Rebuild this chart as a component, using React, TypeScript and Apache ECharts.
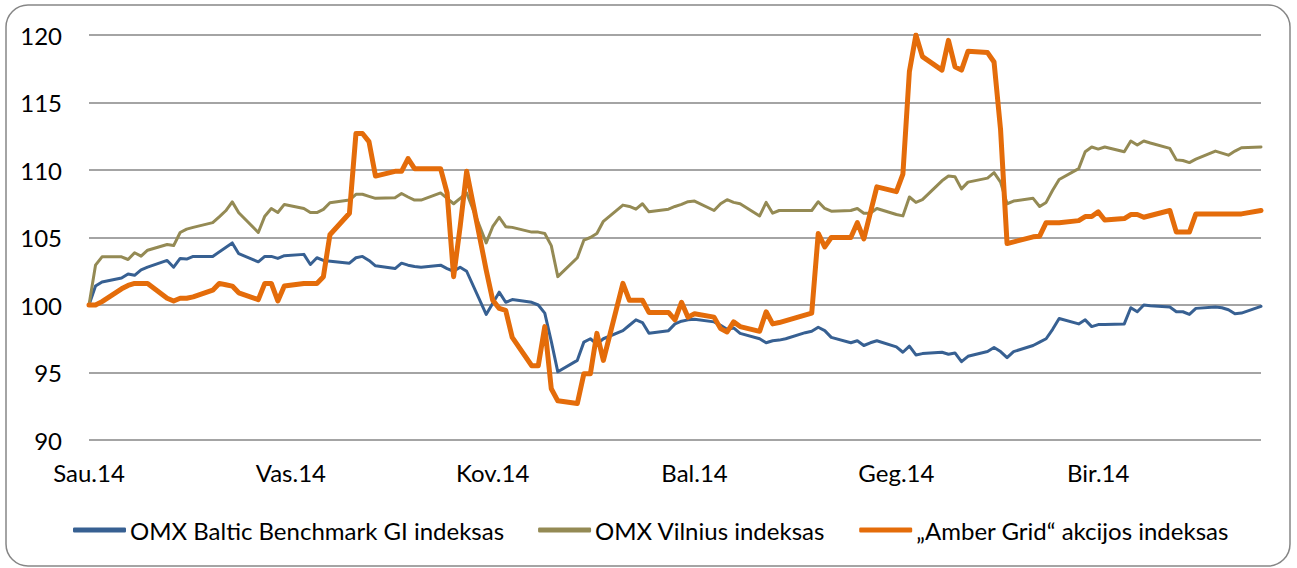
import React, { useEffect, useRef } from "react";
import * as echarts from "echarts";

// x categories: calendar days of 1H 2014 (index 0 = 2014-01-01)
const dayCount = 181;
const monthLabels = ["Sau.14", "Vas.14", "Kov.14", "Bal.14", "Geg.14", "Bir.14"];
const labelEvery = 31;
const yTicks = { min: 90, max: 120, step: 5 };

const seriesNames = [
  "OMX Baltic Benchmark GI indeksas",
  "OMX Vilnius indeksas",
  "\u201EAmber Grid\u201C akcijos indeksas",
];

// [day index, index value]
const balticBenchmark: [number, number][] = [
  [0, 100], [1, 101.4], [2, 101.7], [5, 102.0], [6, 102.3], [7, 102.2], [8, 102.6], [9, 102.8],
  [12, 103.3], [13, 102.8], [14, 103.45], [15, 103.4], [16, 103.6], [19, 103.6], [22, 104.6],
  [23, 103.8], [26, 103.2], [27, 103.6], [28, 103.6], [29, 103.45], [30, 103.65], [33, 103.75],
  [34, 103.0], [35, 103.5], [36, 103.3], [40, 103.1], [41, 103.5], [42, 103.6], [43, 103.3],
  [44, 102.9], [47, 102.7], [48, 103.1], [49, 102.95], [50, 102.85], [51, 102.8], [54, 102.95],
  [55, 102.7], [56, 102.5], [57, 102.8], [58, 102.5], [61, 99.3], [63, 100.95], [64, 100.2],
  [65, 100.4], [68, 100.2], [69, 100.0], [70, 99.4], [71, 97.3], [72, 95.05], [75, 95.9],
  [76, 97.25], [77, 97.5], [78, 97.1], [79, 97.5], [82, 98.1], [83, 98.5], [84, 98.9], [85, 98.7],
  [86, 97.9], [89, 98.1], [90, 98.6], [91, 98.8], [92, 98.9], [93, 98.95], [96, 98.75], [97, 98.5],
  [98, 98.2], [99, 98.3], [100, 97.9], [103, 97.5], [104, 97.2], [105, 97.35], [106, 97.4],
  [107, 97.5], [110, 97.95], [111, 98.05], [112, 98.35], [113, 98.1], [114, 97.6], [117, 97.2],
  [118, 97.35], [119, 97.0], [120, 97.2], [121, 97.35], [124, 96.9], [125, 96.5], [126, 96.95],
  [127, 96.3], [128, 96.4], [131, 96.5], [132, 96.35], [133, 96.45], [134, 95.8], [135, 96.2],
  [138, 96.55], [139, 96.85], [140, 96.55], [141, 96.1], [142, 96.55], [145, 97.0], [146, 97.25],
  [147, 97.5], [148, 98.2], [149, 99.0], [152, 98.6], [153, 98.9], [154, 98.4], [155, 98.55],
  [156, 98.55], [159, 98.6], [160, 99.8], [161, 99.5], [162, 100.0], [163, 99.95], [166, 99.85],
  [167, 99.5], [168, 99.5], [169, 99.3], [170, 99.75], [173, 99.85], [174, 99.8], [175, 99.65],
  [176, 99.35], [177, 99.4], [180, 99.9],
];

const omxVilnius: [number, number][] = [
  [0, 100], [1, 102.95], [2, 103.57], [5, 103.57], [6, 103.37], [7, 103.87], [8, 103.62],
  [9, 104.06], [12, 104.48], [13, 104.4], [14, 105.37], [15, 105.62], [16, 105.75], [19, 106.1],
  [20, 106.53], [21, 106.98], [22, 107.64], [23, 106.83], [26, 105.37], [27, 106.58], [28, 107.15],
  [29, 106.85], [30, 107.45], [33, 107.15], [34, 106.85], [35, 106.85], [36, 107.08], [37, 107.57],
  [40, 107.77], [41, 108.2], [42, 108.2], [43, 108.05], [44, 107.9], [47, 107.95], [48, 108.26],
  [49, 108.0], [50, 107.77], [51, 107.77], [54, 108.3], [55, 107.9], [56, 107.5], [57, 107.9],
  [58, 108.3], [61, 104.6], [62, 105.8], [63, 106.5], [64, 105.8], [65, 105.75], [68, 105.4],
  [69, 105.4], [70, 105.3], [71, 104.4], [72, 102.1], [75, 103.5], [76, 104.8], [77, 105.0],
  [78, 105.3], [79, 106.2], [82, 107.4], [83, 107.3], [84, 107.1], [85, 107.5], [86, 106.9],
  [89, 107.1], [90, 107.3], [91, 107.45], [92, 107.65], [93, 107.7], [96, 107.0], [97, 107.5],
  [98, 107.8], [99, 107.6], [100, 107.5], [103, 106.6], [104, 107.6], [105, 106.8], [106, 107.0],
  [107, 107.0], [110, 107.0], [111, 107.0], [112, 107.65], [113, 107.15], [114, 106.95],
  [117, 107.0], [118, 107.15], [119, 106.8], [120, 106.8], [121, 107.15], [124, 106.7],
  [125, 106.6], [126, 108.0], [127, 107.6], [128, 107.8], [131, 109.2], [132, 109.55],
  [133, 109.5], [134, 108.6], [135, 109.1], [138, 109.4], [139, 109.8], [140, 109.1], [141, 107.5],
  [142, 107.7], [145, 107.9], [146, 107.3], [147, 107.6], [148, 108.5], [149, 109.3], [152, 110.1],
  [153, 111.35], [154, 111.7], [155, 111.55], [156, 111.7], [159, 111.35], [160, 112.15],
  [161, 111.85], [162, 112.15], [163, 112.0], [166, 111.6], [167, 110.75], [168, 110.7],
  [169, 110.55], [170, 110.8], [173, 111.4], [174, 111.25], [175, 111.1], [176, 111.4],
  [177, 111.65], [180, 111.7],
];

const amberGrid: [number, number][] = [
  [0, 100], [1, 100], [2, 100.25], [5, 101.2], [6, 101.45], [7, 101.6], [8, 101.6], [9, 101.6],
  [12, 100.5], [13, 100.3], [14, 100.5], [15, 100.5], [16, 100.6], [19, 101.1], [20, 101.6],
  [21, 101.5], [22, 101.4], [23, 100.9], [26, 100.4], [27, 101.6], [28, 101.6], [29, 100.3],
  [30, 101.4], [33, 101.6], [34, 101.6], [35, 101.6], [36, 102.1], [37, 105.2], [40, 106.8],
  [41, 112.7], [42, 112.7], [43, 112.1], [44, 109.55], [47, 109.9], [48, 109.9], [49, 110.85],
  [50, 110.1], [51, 110.1], [54, 110.1], [55, 108.3], [56, 102.1], [57, 105.8], [58, 109.9],
  [61, 102.6], [62, 100.36], [63, 99.75], [64, 99.6], [65, 97.6], [68, 95.5], [69, 95.5],
  [70, 98.4], [71, 93.8], [72, 92.9], [75, 92.7], [76, 94.9], [77, 94.9], [78, 97.9], [79, 95.9],
  [82, 101.6], [83, 100.35], [84, 100.35], [85, 100.35], [86, 99.45], [89, 99.45], [90, 98.9],
  [91, 100.2], [92, 99.1], [93, 99.35], [96, 99.1], [97, 98.25], [98, 98.0], [99, 98.75],
  [100, 98.4], [103, 98.05], [104, 99.5], [105, 98.6], [106, 98.7], [111, 99.4], [112, 105.3],
  [113, 104.3], [114, 105.0], [117, 105.0], [118, 106.1], [119, 104.9], [121, 108.75],
  [124, 108.4], [125, 109.7], [126, 117.3], [127, 120.0], [128, 118.4], [131, 117.4],
  [132, 119.6], [133, 117.65], [134, 117.4], [135, 118.8], [138, 118.7], [139, 118.0],
  [140, 113.0], [141, 104.55], [145, 105.05], [146, 105.1], [147, 106.1], [148, 106.1],
  [149, 106.1], [152, 106.25], [153, 106.55], [154, 106.55], [155, 106.9], [156, 106.3],
  [159, 106.4], [160, 106.7], [161, 106.7], [162, 106.5], [166, 107.0], [167, 105.4],
  [168, 105.4], [169, 105.4], [170, 106.75], [173, 106.75], [174, 106.75], [175, 106.75],
  [176, 106.75], [177, 106.75], [180, 107.0],
];

const colors = ["#376092", "#948A54", "#E46C0A"];
const widths = [3, 3, 5];

function buildCategories(): string[] {
  const out: string[] = [];
  const start = Date.UTC(2014, 0, 1);
  for (let i = 0; i < dayCount; i++) {
    out.push(new Date(start + i * 86400000).toISOString().slice(0, 10));
  }
  return out;
}

export default function App() {
  const ref = useRef<HTMLDivElement>(null);

  useEffect(() => {
    document.body.style.margin = "0";
    if (!ref.current) return;
    const chart = echarts.init(ref.current, null, { renderer: "svg" });
    const font = "Lato, 'Noto Sans', sans-serif";
    const seriesData = [balticBenchmark, omxVilnius, amberGrid];

    chart.setOption({
      animation: false,
      backgroundColor: "#ffffff",
      textStyle: { fontFamily: font },
      graphic: [
        {
          type: "rect",
          shape: { x: 6, y: 5, width: 1284, height: 561, r: 22 },
          style: { fill: "none", stroke: "#868686", lineWidth: 1.5 },
          silent: true,
        },
      ],
      grid: { left: 89, right: 36, top: 35, bottom: 128, containLabel: false },
      legend: {
        top: 518,
        left: 73,
        padding: 0,
        itemWidth: 53,
        itemHeight: 5,
        itemGap: 34,
        icon: "roundRect",
        textStyle: { fontSize: 24, color: "#000", fontFamily: font, padding: [0, 0, 0, -1] },
        data: seriesNames.map((n, i) => ({ name: n, itemStyle: { color: colors[i] } })),
      },
      xAxis: {
        type: "category",
        boundaryGap: false,
        data: buildCategories(),
        axisLine: { show: false },
        axisTick: { show: false },
        axisLabel: {
          interval: labelEvery - 1,
          margin: 20,
          fontSize: 24,
          color: "#000",
          fontFamily: font,
          formatter: (_v: string, idx: number) => monthLabels[Math.round(idx / labelEvery)] ?? "",
        },
        splitLine: { show: false },
      },
      yAxis: {
        type: "value",
        min: yTicks.min,
        max: yTicks.max,
        interval: yTicks.step,
        axisLine: { show: false },
        axisTick: { show: false },
        axisLabel: { margin: 27, fontSize: 24, color: "#000", fontFamily: font },
        splitLine: { lineStyle: { color: "#868686", width: 1.5 } },
      },
      series: seriesNames.map((n, i) => ({
        name: n,
        type: "line",
        data: seriesData[i],
        showSymbol: false,
        symbol: "none",
        lineStyle: { color: colors[i], width: widths[i], join: "round", cap: "round" },
        itemStyle: { color: colors[i] },
        z: 2 + i,
      })),
    });

    return () => chart.dispose();
  }, []);

  return <div ref={ref} style={{ width: 1297, height: 568 }} />;
}
